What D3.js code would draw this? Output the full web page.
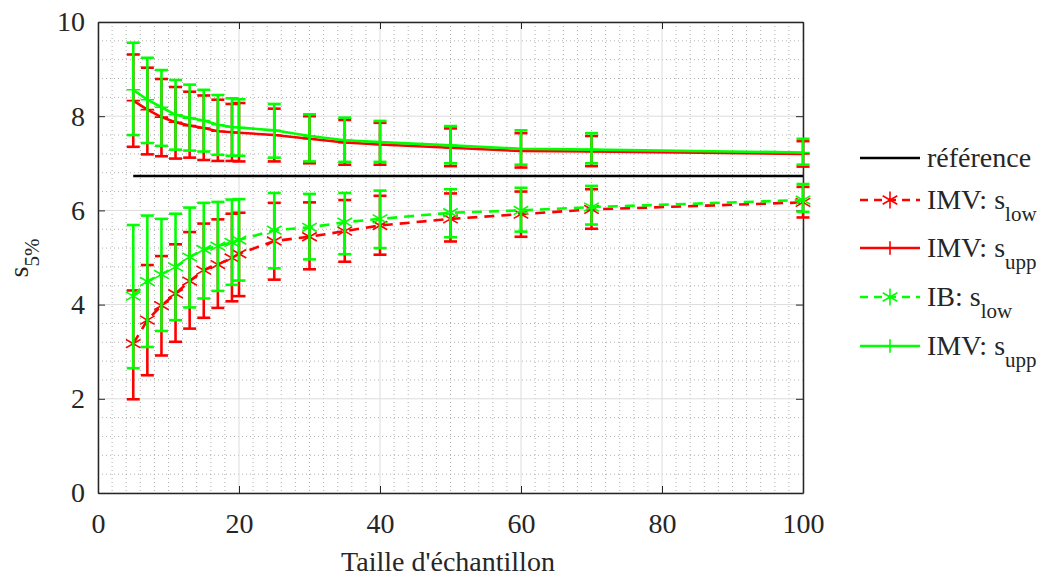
<!DOCTYPE html>
<html>
<head>
<meta charset="utf-8">
<script src="https://cdn.jsdelivr.net/npm/d3@7"></script>
<style>
  body { margin: 0; background: #fff; }
  svg text { font-family: "Liberation Serif", Tinos, "Times New Roman", "DejaVu Serif", serif; fill: #262626; }
</style>
</head>
<body>
<script>
// sample sizes (x)
const sizes = [5, 7, 9, 11, 13, 15, 17, 19, 20, 25, 30, 35, 40, 50, 60, 70, 100];

// reference value
const reference = 6.73;

// IMV: s_low (red, dashed, stars)
const imvLow    = [3.17, 3.67, 3.98, 4.23, 4.50, 4.73, 4.85, 4.99, 5.08, 5.35, 5.44, 5.56, 5.68, 5.82, 5.92, 6.02, 6.17];
const imvLowMin = [1.99, 2.50, 2.92, 3.21, 3.49, 3.72, 3.93, 4.07, 4.18, 4.53, 4.75, 4.91, 5.06, 5.34, 5.44, 5.61, 5.85];
const imvLowMax = [4.30, 4.84, 5.03, 5.28, 5.54, 5.72, 5.81, 5.93, 5.95, 6.16, 6.17, 6.22, 6.31, 6.36, 6.40, 6.45, 6.50];

// IMV: s_upp (red, solid, plus)
const imvUpp    = [8.33, 8.14, 7.98, 7.87, 7.80, 7.75, 7.68, 7.66, 7.65, 7.60, 7.52, 7.44, 7.40, 7.33, 7.26, 7.25, 7.20];
const imvUppMin = [7.35, 7.19, 7.15, 7.10, 7.12, 7.07, 7.05, 7.05, 7.04, 7.04, 7.00, 6.97, 6.97, 6.94, 6.91, 6.94, 6.93];
const imvUppMax = [9.31, 9.03, 8.79, 8.62, 8.52, 8.44, 8.35, 8.26, 8.28, 8.16, 8.00, 7.92, 7.86, 7.74, 7.64, 7.58, 7.47];

// IB: s_low (green, dashed, stars)
const ibLow    = [4.18, 4.49, 4.64, 4.80, 5.01, 5.17, 5.24, 5.32, 5.37, 5.58, 5.64, 5.75, 5.82, 5.95, 6.00, 6.07, 6.22];
const ibLowMin = [2.65, 3.10, 3.44, 3.67, 3.94, 4.13, 4.29, 4.42, 4.51, 4.77, 4.96, 5.07, 5.20, 5.43, 5.55, 5.70, 5.97];
const ibLowMax = [5.69, 5.89, 5.82, 5.93, 6.06, 6.16, 6.18, 6.23, 6.24, 6.37, 6.35, 6.37, 6.42, 6.45, 6.48, 6.52, 6.56];

// second green series, labelled "IMV: s_upp" in the original legend
const ibUpp    = [8.56, 8.35, 8.19, 8.03, 7.96, 7.91, 7.82, 7.77, 7.76, 7.70, 7.58, 7.49, 7.45, 7.38, 7.31, 7.29, 7.23];
const ibUppMin = [7.60, 7.43, 7.37, 7.29, 7.27, 7.25, 7.18, 7.16, 7.16, 7.12, 7.04, 7.03, 7.03, 7.00, 6.97, 7.00, 6.97];
const ibUppMax = [9.56, 9.24, 8.98, 8.77, 8.67, 8.56, 8.45, 8.38, 8.36, 8.26, 8.04, 7.97, 7.90, 7.79, 7.70, 7.64, 7.52];

const xTicks = [0, 20, 40, 60, 80, 100];
const yTicks = [0, 2, 4, 6, 8, 10];

const serif = '"Liberation Serif", Tinos, "Times New Roman", "DejaVu Serif", serif';

const margin = {top: 22, right: 243, bottom: 85, left: 98};
const width = 1046 - margin.left - margin.right,
      height = 578 - margin.top - margin.bottom;

const svg = d3.select("body").append("svg")
    .attr("width", 1046)
    .attr("height", 578);

const g = svg.append("g")
    .attr("transform", "translate(" + margin.left + "," + margin.top + ")");

const x = d3.scaleLinear().domain([0, 100]).range([0, width]);
const y = d3.scaleLinear().domain([0, 10]).range([height, 0]);

// minor grid (dotted)
const xMinor = d3.range(0, 101, 2).filter(v => v % 20 !== 0);
const yMinor = d3.range(0, 10.01, 0.4).map(v => +v.toFixed(1)).filter(v => v % 2 !== 0);

g.append("g").selectAll("line")
    .data(xMinor).enter().append("line")
    .attr("x1", d => x(d)).attr("x2", d => x(d))
    .attr("y1", 0).attr("y2", height)
    .attr("stroke", "#b0b0b0").attr("stroke-width", 1)
    .attr("stroke-dasharray", "1,3");
g.append("g").selectAll("line")
    .data(yMinor).enter().append("line")
    .attr("y1", d => y(d)).attr("y2", d => y(d))
    .attr("x1", 0).attr("x2", width)
    .attr("stroke", "#b0b0b0").attr("stroke-width", 1)
    .attr("stroke-dasharray", "1,3");

// major grid
g.append("g").selectAll("line")
    .data(xTicks).enter().append("line")
    .attr("x1", d => x(d)).attr("x2", d => x(d))
    .attr("y1", 0).attr("y2", height)
    .attr("stroke", "#dcdcdc").attr("stroke-width", 1);
g.append("g").selectAll("line")
    .data(yTicks).enter().append("line")
    .attr("y1", d => y(d)).attr("y2", d => y(d))
    .attr("x1", 0).attr("x2", width)
    .attr("stroke", "#dcdcdc").attr("stroke-width", 1);

// axes
g.append("g")
    .attr("transform", "translate(0," + height + ")")
    .call(d3.axisBottom(x).tickValues(xTicks).tickSizeInner(-7).tickSizeOuter(0).tickPadding(20));
g.append("g")
    .call(d3.axisLeft(y).tickValues(yTicks).tickSizeInner(-7).tickSizeOuter(0).tickPadding(13));
g.append("g")
    .call(d3.axisTop(x).tickValues(xTicks).tickSizeInner(-7).tickSizeOuter(0).tickFormat(""));
g.append("g")
    .attr("transform", "translate(" + width + ",0)")
    .call(d3.axisRight(y).tickValues(yTicks).tickSizeInner(-7).tickSizeOuter(0).tickFormat(""));

g.selectAll(".domain").attr("stroke", "#262626").attr("stroke-width", 1.5);
g.selectAll(".tick line").attr("stroke", "#262626");
g.selectAll("g").attr("font-family", serif);
g.selectAll(".tick text")
    .attr("font-size", "28px")
    .style("font-family", serif)
    .attr("fill", "#262626");

// series definitions
const series = [
    {vals: imvLow, lo: imvLowMin, hi: imvLowMax, color: "#ff0000", dash: "10,7", sym: d3.symbolAsterisk, size: 200},
    {vals: imvUpp, lo: imvUppMin, hi: imvUppMax, color: "#ff0000", dash: null, sym: d3.symbolPlus, size: 60},
    {vals: ibLow, lo: ibLowMin, hi: ibLowMax, color: "#00ff00", dash: "10,7", sym: d3.symbolAsterisk, size: 200},
    {vals: ibUpp, lo: ibUppMin, hi: ibUppMax, color: "#00ff00", dash: null, sym: d3.symbolPlus, size: 60}
];

// reference line
g.append("line")
    .attr("x1", x(sizes[0])).attr("x2", x(sizes[sizes.length - 1]))
    .attr("y1", y(reference)).attr("y2", y(reference))
    .attr("stroke", "#000").attr("stroke-width", 2.5);

const line = d3.line()
    .x(d => x(d[0]))
    .y(d => y(d[1]));

const cap = 6.5;

series.forEach(s => {
    const pts = sizes.map((n, i) => [n, s.vals[i], s.lo[i], s.hi[i]]);
    const sg = g.append("g");

    sg.append("path")
        .datum(pts)
        .attr("fill", "none")
        .attr("stroke", s.color)
        .attr("stroke-width", 2.6)
        .attr("stroke-dasharray", s.dash)
        .attr("d", line);

    // error bars
    const eb = sg.selectAll(".eb").data(pts).enter().append("g");
    eb.append("line")
        .attr("x1", d => x(d[0])).attr("x2", d => x(d[0]))
        .attr("y1", d => y(d[2])).attr("y2", d => y(d[3]));
    eb.append("line")
        .attr("x1", d => x(d[0]) - cap).attr("x2", d => x(d[0]) + cap)
        .attr("y1", d => y(d[2])).attr("y2", d => y(d[2]));
    eb.append("line")
        .attr("x1", d => x(d[0]) - cap).attr("x2", d => x(d[0]) + cap)
        .attr("y1", d => y(d[3])).attr("y2", d => y(d[3]));
    eb.selectAll("line").attr("stroke", s.color).attr("stroke-width", 2.6);

    // markers
    sg.selectAll(".mk").data(pts).enter().append("path")
        .attr("transform", d => "translate(" + x(d[0]) + "," + y(d[1]) + ")")
        .attr("d", d3.symbol().type(s.sym).size(s.size))
        .attr("fill", "none")
        .attr("stroke", s.color)
        .attr("stroke-width", 1.6);
});

// axis labels
svg.append("text")
    .attr("x", 448).attr("y", 571)
    .attr("text-anchor", "middle")
    .attr("font-size", "28px")
    .style("font-family", serif)
    .text("Taille d'échantillon");

const yl = svg.append("text")
    .attr("transform", "translate(28,258) rotate(-90)")
    .attr("text-anchor", "middle")
    .attr("font-size", "28px")
    .style("font-family", serif);
yl.append("tspan").text("s");
yl.append("tspan").attr("dy", 11).attr("font-size", "21px").text("5%");

// legend
const legendItems = [
    {label: "référence", sub: null, color: "#000", dash: null, sym: null},
    {label: "IMV: s", sub: "low", color: "#ff0000", dash: "8,6", sym: d3.symbolAsterisk, size: 200},
    {label: "IMV: s", sub: "upp", color: "#ff0000", dash: null, sym: d3.symbolPlus, size: 60},
    {label: "IB: s", sub: "low", color: "#00ff00", dash: "8,6", sym: d3.symbolAsterisk, size: 200},
    {label: "IMV: s", sub: "upp", color: "#00ff00", dash: null, sym: d3.symbolPlus, size: 60}
];
const legendY = [158, 200, 248, 297, 346];

const lg = svg.append("g");
legendItems.forEach((it, i) => {
    const ly = legendY[i];
    lg.append("line")
        .attr("x1", 860).attr("x2", 920)
        .attr("y1", ly).attr("y2", ly)
        .attr("stroke", it.color)
        .attr("stroke-width", 2.6)
        .attr("stroke-dasharray", it.dash);
    if (it.sym) {
        lg.append("path")
            .attr("transform", "translate(890," + ly + ")")
            .attr("d", d3.symbol().type(it.sym).size(it.size))
            .attr("fill", "none")
            .attr("stroke", it.color)
            .attr("stroke-width", 1.6);
    }
    const t = lg.append("text")
        .attr("x", 927).attr("y", ly + 9)
        .attr("font-size", "28px")
        .style("font-family", serif)
        .text(it.label);
    if (it.sub) {
        t.append("tspan").attr("dy", 12).attr("font-size", "21px").text(it.sub);
    }
});
</script>
</body>
</html>
